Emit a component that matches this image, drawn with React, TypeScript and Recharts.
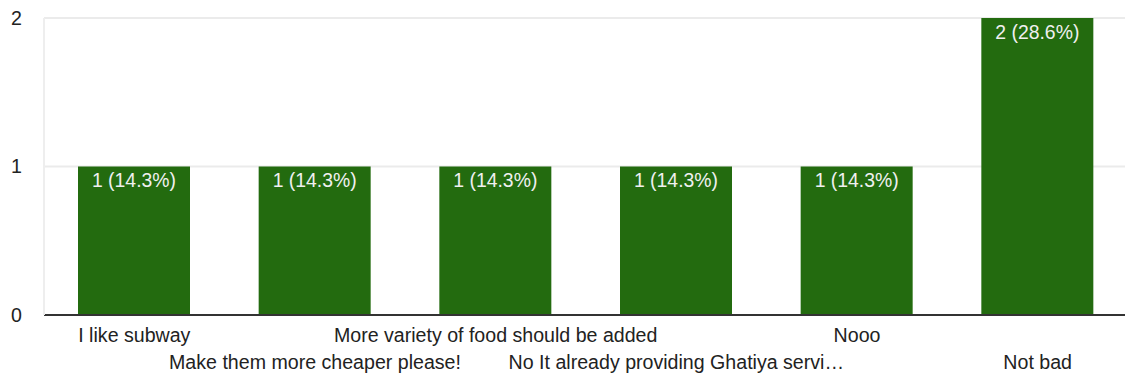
import { BarChart, Bar, XAxis, YAxis, CartesianGrid, LabelList, ReferenceLine } from "recharts";

const categories = [
  "I like subway",
  "Make them more cheaper please!",
  "More variety of food should be added",
  "No It already providing Ghatiya servi…",
  "Nooo",
  "Not bad",
];
const counts = [1, 1, 1, 1, 1, 2];
const percents = [14.3, 14.3, 14.3, 14.3, 14.3, 28.6];
const yTicks = [0, 1, 2];

const FONT = "'Liberation Sans', Arial, sans-serif";

const data = categories.map((name, i) => ({
  name,
  count: counts[i],
  label: `${counts[i]} (${percents[i].toFixed(1)}%)`,
}));

// google-forms style staggered labels: even index on row 1, odd on row 2
function StaggerTick(props: any) {
  const { x, y, payload, index } = props;
  const dy = index % 2 === 0 ? 14 : 41;
  return (
    <text
      x={x}
      y={y + dy}
      textAnchor="middle"
      dominantBaseline="middle"
      fill="#222"
      fontSize={19.6}
      fontFamily={FONT}
    >
      {payload.value}
    </text>
  );
}

export default function App() {
  return (
    <div style={{ width: 1125, height: 375, overflow: "hidden", background: "#fff" }}>
      <style>{`body{margin:0}`}</style>
      <BarChart
        width={1128}
        height={375}
        data={data}
        margin={{ top: 18, right: 0, bottom: 0, left: 0 }}
        barCategoryGap={0}
      >
        <CartesianGrid vertical={false} stroke="#ebebeb" strokeWidth={2} />
        <XAxis
          dataKey="name"
          height={60}
          interval={0}
          tickLine={false}
          axisLine={false}
          tick={<StaggerTick />}
        />
        <YAxis
          width={44}
          domain={[0, 2]}
          ticks={yTicks}
          tickLine={false}
          tickSize={0}
          tickMargin={22}
          axisLine={{ stroke: "#eeeeee", strokeWidth: 2 }}
          tick={{ fill: "#222", fontSize: 19.6, fontFamily: FONT }}
        />
        <Bar dataKey="count" fill="#236b0f" barSize={112} isAnimationActive={false}>
          <LabelList
            dataKey="label"
            position="insideTop"
            offset={7}
            fill="#f0f0f0"
            fontSize={19.4}
            fontFamily={FONT}
          />
        </Bar>
        <ReferenceLine y={0} stroke="#333" strokeWidth={2} />
      </BarChart>
    </div>
  );
}
